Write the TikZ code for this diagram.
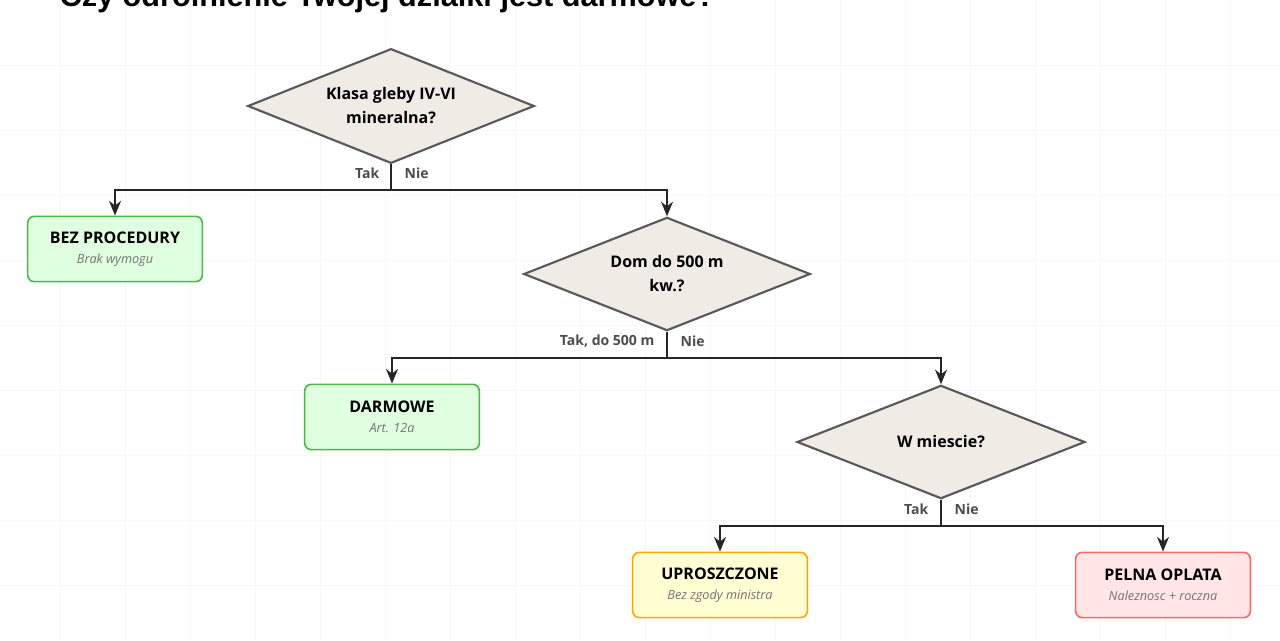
\documentclass[tikz,border=0pt]{standalone}
\usepackage{fontspec}
\setmainfont{Liberation Sans}
\newfontfamily\nodefont{Open Sans}
\usetikzlibrary{shapes.geometric,arrows.meta}
\definecolor{dfill}{HTML}{EFECE6}
\begin{document}
\begin{tikzpicture}[x=0.75pt,y=-0.75pt,
  dec/.style={diamond,draw=black!65,line width=1.6pt,fill=dfill,aspect=2.5,inner sep=0pt,font=\nodefont\bfseries\fontsize{12}{18}\selectfont,align=center},
  box/.style={rounded corners=5pt,line width=1.2pt,minimum width=131pt,minimum height=49pt,align=center},
  green/.style={box,draw=green!60!black!70,fill=green!12},
  yellow/.style={box,draw=orange!70!yellow,fill=yellow!18},
  red/.style={box,draw=red!60,fill=red!10},
  arr/.style={-{Stealth[length=11pt,width=9pt]},line width=1.2pt,black!85},
  ln/.style={line width=1.2pt,black!85},
  lab/.style={font=\nodefont\bfseries\fontsize{10.5}{12}\selectfont,text=black!70}]
\clip (0,0) rectangle (1280,640);
\fill[white] (0,0) rectangle (1280,640);
\foreach \i in {60,125,...,1280} \draw[black!3] (\i,0)--(\i,640);
\foreach \j in {65,130,...,640} \draw[black!3] (0,\j)--(1280,\j);
\node[anchor=base west,font=\bfseries\fontsize{23}{26}\selectfont] (title) at (55,6) {Czy odrolnienie Twojej dzialki jest darmowe?};
\node[dec,minimum width=215pt,minimum height=86pt] (d1) at (391,106) {Klasa gleby IV-VI\\mineralna?};
\node[dec,minimum width=215pt,minimum height=85pt] (d2) at (667,274) {Dom do 500 m\\kw.?};
\node[dec,minimum width=216pt,minimum height=85pt] (d3) at (941,442) {W miescie?};
\newcommand{\bx}[2]{{\nodefont\bfseries\fontsize{12}{14}\selectfont #1}\\[3pt]{\nodefont\itshape\fontsize{9.5}{11}\selectfont\color{black!55}#2}}
\node[green] (b1) at (115,249) {\bx{BEZ PROCEDURY}{Brak wymogu}};
\node[green] (b2) at (392,417) {\bx{DARMOWE}{Art. 12a}};
\node[yellow] (b3) at (720,585) {\bx{UPROSZCZONE}{Bez zgody ministra}};
\node[red] (b4) at (1163,585) {\bx{PELNA OPLATA}{Naleznosc + roczna}};
\coordinate (j1) at (391,190); \coordinate (j2) at (667,358); \coordinate (j3) at (941,526);
\draw[ln] (d1.south)--(j1);
\draw[arr] (j1)-|(b1.north);
\draw[arr] (j1)-|(d2.north);
\draw[ln] (d2.south)--(j2);
\draw[arr] (j2)-|(b2.north);
\draw[arr] (j2)-|(d3.north);
\draw[ln] (d3.south)--(j3);
\draw[arr] (j3)-|(b3.north);
\draw[arr] (j3)-|(b4.north);
\node[lab,anchor=east] (t1) at (384,173) {Tak};
\node[lab,anchor=west] (n1) at (400,173) {Nie};
\node[lab,anchor=east] (t2) at (659,341) {Tak, do 500 m};
\node[lab,anchor=west] (n2) at (676,341) {Nie};
\node[lab,anchor=east] (t3) at (933,509) {Tak};
\node[lab,anchor=west] (n3) at (950,509) {Nie};
\end{tikzpicture}
\end{document}
